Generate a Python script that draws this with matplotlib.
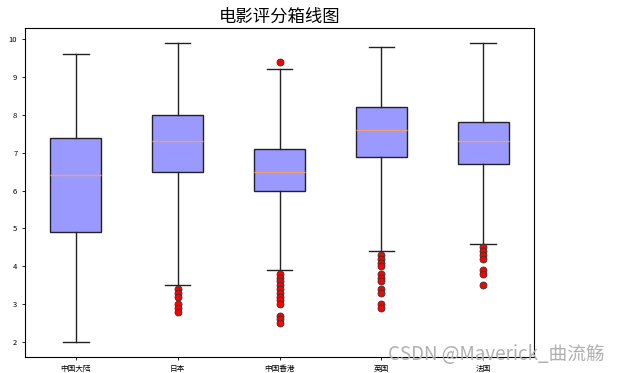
import matplotlib
matplotlib.use("Agg")
import matplotlib.pyplot as plt

plt.rcParams['font.family'] = ['Noto Sans CJK SC', 'DejaVu Sans']

# Box statistics
regions = ['中国大陆', '日本', '中国香港', '英国', '法国']
q1 = [4.9, 6.5, 6.0, 6.9, 6.7]
medians = [6.4, 7.3, 6.5, 7.6, 7.3]
q3 = [7.4, 8.0, 7.1, 8.2, 7.8]
whis_lo = [2.0, 3.5, 3.9, 4.4, 4.6]
whis_hi = [9.6, 9.9, 9.2, 9.8, 9.9]
outliers = [
    [],
    [3.4, 3.3, 3.2, 3.0, 2.9, 2.8],
    [9.4, 3.8, 3.7, 3.6, 3.5, 3.4, 3.3, 3.2, 3.1, 3.0, 2.7, 2.6, 2.5],
    [4.3, 4.2, 4.1, 4.0, 3.8, 3.7, 3.6, 3.4, 3.3, 3.0, 2.9],
    [4.5, 4.4, 4.3, 4.2, 3.9, 3.8, 3.5],
]

stats = []
for i, name in enumerate(regions):
    stats.append({
        'label': name,
        'q1': q1[i],
        'med': medians[i],
        'q3': q3[i],
        'whislo': whis_lo[i],
        'whishi': whis_hi[i],
        'fliers': outliers[i],
    })

fig = plt.figure(figsize=(6.22, 3.73), dpi=100)
ax = fig.add_axes([25 / 622, 16 / 373, 509 / 622, 329 / 373])

ax.bxp(stats, widths=0.5, patch_artist=True,
       boxprops=dict(facecolor='#9999ff', edgecolor='#222222', linewidth=1),
       medianprops=dict(color='#f0a070', linewidth=1),
       whiskerprops=dict(color='#222222', linewidth=1),
       capprops=dict(color='#222222', linewidth=1),
       flierprops=dict(marker='o', markerfacecolor='red', markeredgecolor='#333333',
                       markersize=5, markeredgewidth=0.6))

ax.tick_params(labelsize=5.5, length=2, width=0.6)
ax.set_yticks(range(2, 11))
for s in ax.spines.values():
    s.set_linewidth(0.8)

fig.text(279.5 / 622, 1 - 17 / 373, '电影评分箱线图', ha='center', va='center', fontsize=12.5)

# watermark
fig.text(388 / 622, 1 - 354 / 373, 'CSDN @Maverick_曲流觞', ha='left', va='center',
         fontsize=13.5, color='#b0b0b0')

fig.savefig('out.png', dpi=100)
